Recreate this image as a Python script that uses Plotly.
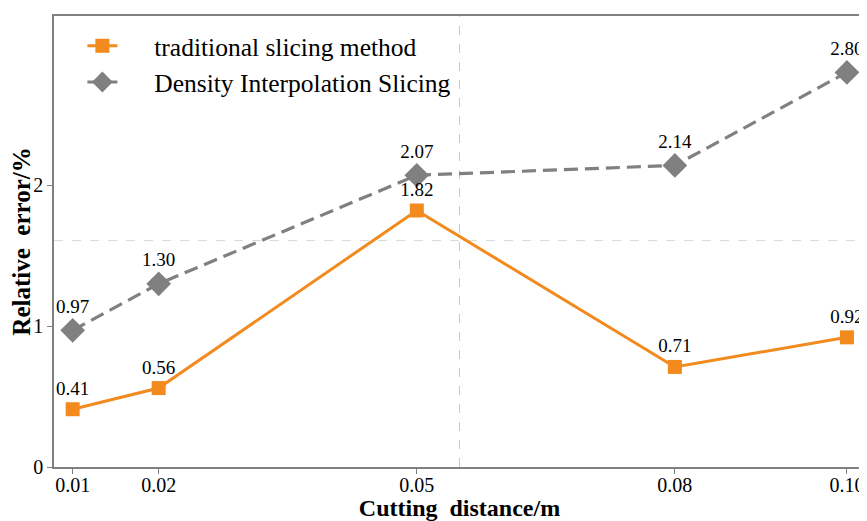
import plotly.graph_objects as go

x_vals = [0.01, 0.02, 0.05, 0.08, 0.10]
x_ticks = ["0.01", "0.02", "0.05", "0.08", "0.10"]
traditional = [0.41, 0.56, 1.82, 0.71, 0.92]
density = [0.97, 1.30, 2.07, 2.14, 2.80]

FONT = "Liberation Serif, Times New Roman, serif"
PAD = "\u00a0\u00a0\u00a0\u00a0\u00a0"

fig = go.Figure()
fig.add_trace(go.Scatter(
    x=x_vals, y=density, name=PAD + "Density Interpolation Slicing",
    mode="lines+markers+text",
    line=dict(color="#808080", width=3.2, dash="14px,7px"),
    marker=dict(symbol="diamond", size=19, color="#808080"),
    text=[f"{v:.2f}" for v in density], textposition="top center",
    textfont=dict(size=19, color="black", family=FONT),
    cliponaxis=False,
))
fig.add_trace(go.Scatter(
    x=x_vals, y=traditional, name=PAD + "traditional slicing method",
    mode="lines+markers+text",
    line=dict(color="#F28A1E", width=3),
    marker=dict(symbol="square", size=14, color="#F28A1E"),
    text=[f"{v:.2f}" for v in traditional], textposition="top center",
    textfont=dict(size=19, color="black", family=FONT),
    cliponaxis=False,
))

fig.add_shape(type="line", xref="paper", yref="paper", x0=0.5, x1=0.5, y0=0, y1=1,
              line=dict(color="#c8c8c8", width=1, dash="dash"), layer="below")
fig.add_shape(type="line", xref="paper", yref="paper", x0=0, x1=1, y0=0.502, y1=0.502,
              line=dict(color="#d8d8d8", width=1, dash="dash"), layer="below")

# page body has an 8px margin, so the figure is sized to fit the window
fig.update_layout(
    width=859, height=513,
    margin=dict(l=46, r=2, t=8, b=54),
    paper_bgcolor="white", plot_bgcolor="white",
    font=dict(family=FONT, color="black"),
    showlegend=True,
    legend=dict(x=0.035, y=0.985, xanchor="left", yanchor="top",
                font=dict(size=25.5, family=FONT), traceorder="reversed",
                bgcolor="rgba(0,0,0,0)"),
    xaxis=dict(
        range=[0.00783, 0.1021], tickvals=x_vals, ticktext=x_ticks,
        showgrid=False, zeroline=False, automargin=False,
        showline=True, linecolor="#808080", linewidth=1.5, mirror=True,
        ticks="outside", ticklen=5, tickcolor="#808080",
        ticklabelstandoff=-6,
        tickfont=dict(size=20, family=FONT),
        title=dict(text="<b>Cutting  distance/m</b>", font=dict(size=24, family=FONT), standoff=8),
    ),
    yaxis=dict(
        range=[0, 3.2], tickvals=[0, 1, 2],
        showgrid=False, zeroline=False, automargin=False,
        showline=True, linecolor="#808080", linewidth=1.5, mirror=True,
        ticks="outside", ticklen=5, tickcolor="#808080",
        tickfont=dict(size=20, family=FONT),
        title=dict(text="<b>Relative  error/%</b>", font=dict(size=25, family=FONT), standoff=15),
    ),
)

fig.write_html("out.html")
